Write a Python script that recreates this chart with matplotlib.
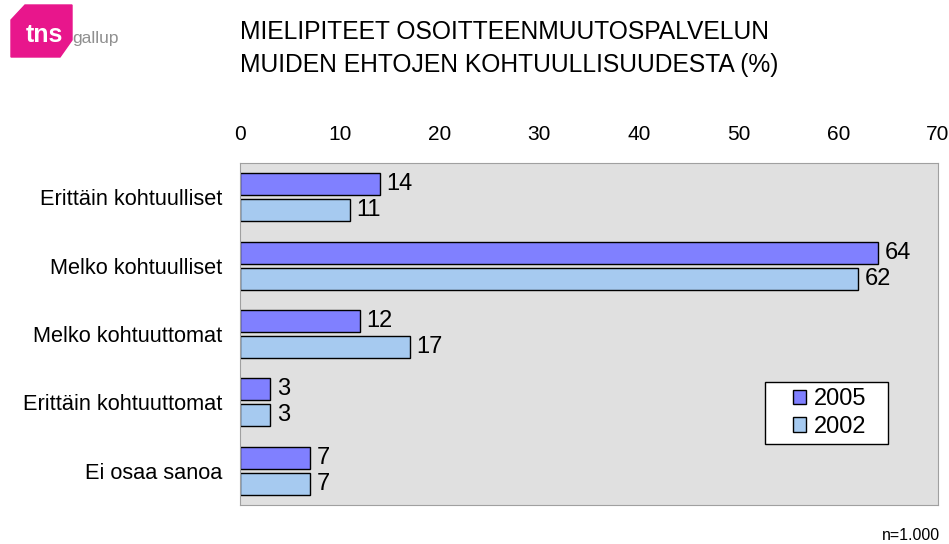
import matplotlib.pyplot as plt
from matplotlib.patches import Polygon, Rectangle
import numpy as np

plt.rcParams['font.family'] = ['Liberation Sans', 'DejaVu Sans']

# Data
categories = ['Erittäin kohtuulliset', 'Melko kohtuulliset', 'Melko kohtuuttomat',
              'Erittäin kohtuuttomat', 'Ei osaa sanoa']
values_2005 = [14, 64, 12, 3, 7]
values_2002 = [11, 62, 17, 3, 7]
series_names = ['2005', '2002']

fig = plt.figure(figsize=(9.49, 5.44), dpi=100)
ax = fig.add_axes([0.2529, 0.0717, 0.7355, 0.6287])
ax.set_facecolor('#e0e0e0')

y = np.arange(len(categories))
h = 0.32
bars1 = ax.barh(y - h / 2 - 0.03, values_2005, height=h, color='#8080ff',
                edgecolor='black', linewidth=1, label=series_names[0])
bars2 = ax.barh(y + h / 2 + 0.03, values_2002, height=h, color='#a6caf0',
                edgecolor='black', linewidth=1, label=series_names[1])

for bars, vals in [(bars1, values_2005), (bars2, values_2002)]:
    for b, v in zip(bars, vals):
        ax.text(b.get_width() + 0.7, b.get_y() + b.get_height() / 2, str(v),
                va='center', ha='left', fontsize=17)

ax.set_xlim(0, 70)
ax.set_ylim(len(categories) - 0.5, -0.5)
ax.set_xticks(range(0, 71, 10))
ax.xaxis.tick_top()
ax.tick_params(axis='x', length=0, labelsize=15, pad=14)
ax.set_yticks(y)
ax.set_yticklabels(categories)
ax.tick_params(axis='y', length=0, labelsize=15.7, pad=13)
for s in ax.spines.values():
    s.set_color('#a0a0a0')

# legend box drawn separately, legend entries centred inside it
ax.add_patch(Rectangle((0.752, 0.178), 0.176, 0.182, transform=ax.transAxes,
                       facecolor='white', edgecolor='black', linewidth=1, zorder=4))
leg = ax.legend(loc='center', bbox_to_anchor=(0.845, 0.269), fontsize=17,
                frameon=False, handlelength=0.55, handleheight=0.55,
                handletextpad=0.35, borderpad=0, labelspacing=0.25)
leg.set_zorder(5)

fig.text(240 / 949, 1 - 32 / 544, 'MIELIPITEET OSOITTEENMUUTOSPALVELUN',
         fontsize=17.7, va='center', ha='left')
fig.text(240 / 949, 1 - 65 / 544, 'MUIDEN EHTOJEN KOHTUULLISUUDESTA (%)',
         fontsize=17.7, va='center', ha='left')
fig.text(940 / 949, 1 - 535 / 544, 'n=1.000', fontsize=11.5, va='center', ha='right')

# tns gallup logo
pts = [(25, 5), (72, 5), (72, 40), (60, 57), (11, 57), (11, 20)]
logo = Polygon([(px / 949, 1 - py / 544) for px, py in pts],
               closed=True, transform=fig.transFigure, color='#e8168c')
fig.patches.append(logo)
fig.text(26 / 949, 1 - 35 / 544, 'tns', fontsize=18, fontweight='bold',
         color='white', va='center', ha='left')
fig.text(72 / 949, 1 - 38 / 544, 'gallup', fontsize=12.5, color='#909090',
         va='center', ha='left')

fig.savefig('out.png', dpi=100)
